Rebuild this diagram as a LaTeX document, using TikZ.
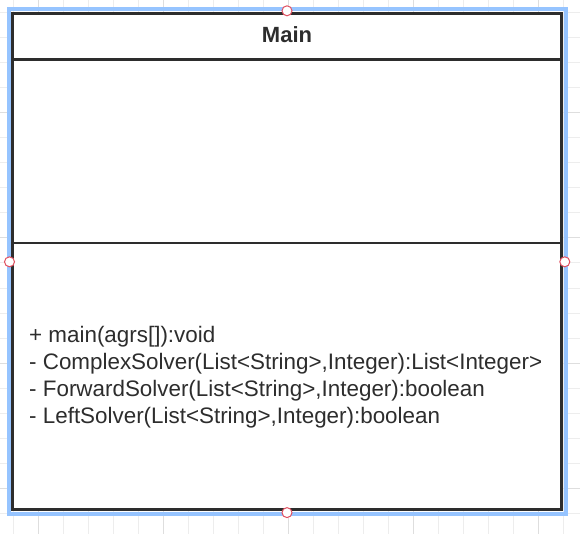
\documentclass[tikz,border=0pt]{standalone}
\usepackage{fontspec}
\setmainfont{Liberation Sans}
\usepackage{xcolor}
\usetikzlibrary{positioning,backgrounds}

\definecolor{selblue}{RGB}{150,196,255}
\definecolor{handlered}{RGB}{224,80,96}
\definecolor{ink}{RGB}{45,45,45}

\begin{document}
\begin{tikzpicture}[
      x=1pt,y=-1pt,
      gridminor/.style={
        draw=black!7,
        line width=1pt
      },
      gridmajor/.style={
        draw=black!13,
        line width=1pt
      },
      classbox/.style={
        draw=ink,
        fill=white,
        line width=3pt,
        inner sep=0pt
      },
      selection/.style={
        draw=selblue,
        line width=4pt
      },
      divider/.style={
        draw=ink,
        line width=2.5pt
      },
      heading/.style={
        font=\fontsize{22}{26}\selectfont\bfseries,
        text=ink,
        inner sep=0pt
      },
      member/.style={
        font=\fontsize{22.4}{27}\selectfont,
        text=ink,
        inner sep=0pt
      },
      handle/.style={
        circle,
        draw=handlered,
        fill=white,
        line width=1pt,
        minimum size=10pt,
        inner sep=0pt
      }
    ]
    \useasboundingbox (0,0) rectangle (580,534);

    \node[classbox, minimum width=549pt, minimum height=496pt] (main) at (287,261.8) {};

    \node[heading, anchor=base] (title) at ([yshift=-30.5pt]main.north) {Main};

    \draw[divider] ([yshift=-47.2pt]main.north west) -- ([yshift=-47.2pt]main.north east);
    \draw[divider] ([yshift=-230.9pt]main.north west) -- ([yshift=-230.9pt]main.north east);

    \node[member, anchor=base west] (m1) at ([xshift=18pt,yshift=-330pt]main.north west) {+ main(agrs[]):void};
    \node[member, anchor=base west] (m2) at ([yshift=-27pt]m1.base west) {- ComplexSolver(List<String>,Integer):List<Integer>};
    \node[member, anchor=base west] (m3) at ([yshift=-27pt]m2.base west) {- ForwardSolver(List<String>,Integer):boolean};
    \node[member, anchor=base west] (m4) at ([yshift=-27pt]m3.base west) {- LeftSolver(List<String>,Integer):boolean};

    \begin{scope}[on background layer]
      \foreach \i in {13,38,...,563}
        \draw[gridminor] (\i,0) -- (\i,534);
      \foreach \j in {13,38,...,513}
        \draw[gridminor] (0,\j) -- (580,\j);
      \foreach \i in {38,163,288,413,538}
        \draw[gridmajor] (\i,0) -- (\i,534);
      \foreach \j in {113,238,363,488}
        \draw[gridmajor] (0,\j) -- (580,\j);
      \draw[selection] ([xshift=-2.5pt,yshift=2.8pt]main.north west) rectangle ([xshift=3pt,yshift=-2.8pt]main.south east);
    \end{scope}

    \node[handle] (htop) at ([yshift=1.5pt]main.north) {};
    \node[handle] (hleft) at ([xshift=-1.5pt]main.west) {};
    \node[handle] (hright) at ([xshift=1.8pt]main.east) {};
    \node[handle] (hbottom) at ([yshift=-1.3pt]main.south) {};

  \end{tikzpicture}
\end{document}
